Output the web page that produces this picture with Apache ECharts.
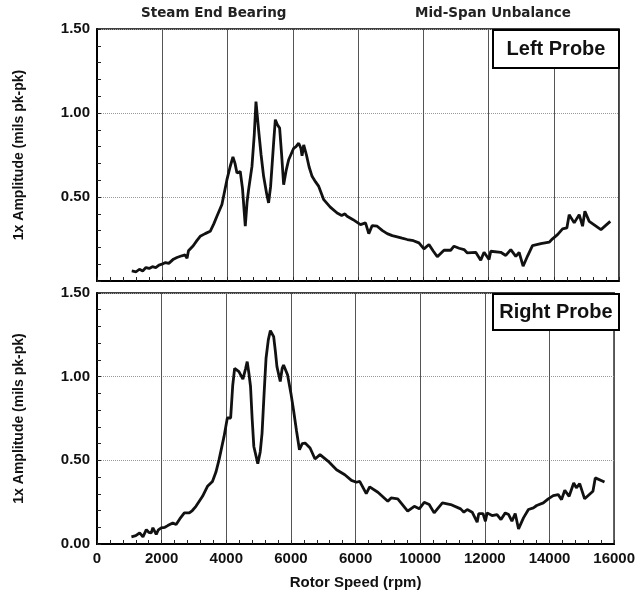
<!DOCTYPE html>
<html>
<head>
<meta charset="utf-8">
<script src="https://cdn.jsdelivr.net/npm/echarts@6/dist/echarts.min.js"></script>
<style>html,body{margin:0;padding:0;background:#fff}#c{width:638px;height:599px}</style>
</head>
<body>
<div id="c"></div>
<script>
const xTickLabels = ['0','2000','4000','6000','6000','10000','12000','14000','16000'];

const leftSpeed = [1065,1200,1300,1400,1500,1600,1700,1800,1900,1990,2100,2200,2343,2450,2600,2700,2760,2804,2950,3060,3163,3316,3470,3580,3676,3829,3983,4080,4167,4230,4290,4391,4460,4545,4600,4647,4750,4820,4873,4953,5030,5107,5200,5260,5320,5364,5420,5466,5530,5598,5660,5721,5800,5875,6028,6100,6182,6250,6285,6336,6420,6500,6592,6700,6797,6950,7150,7360,7500,7600,7667,7850,8076,8128,8230,8331,8435,8588,8750,8895,9050,9202,9350,9509,9700,9868,10022,10175,10300,10431,10636,10841,10943,11100,11250,11352,11608,11762,11864,12017,12069,12376,12530,12683,12837,12939,13061,13200,13348,13604,13860,13962,14116,14270,14402,14473,14627,14780,14883,14954,15087,15447,15733];
const leftAmp = [0.06,0.055,0.07,0.06,0.08,0.075,0.085,0.08,0.095,0.10,0.11,0.105,0.13,0.14,0.15,0.155,0.135,0.18,0.21,0.24,0.266,0.282,0.296,0.34,0.385,0.455,0.603,0.68,0.738,0.70,0.643,0.652,0.55,0.326,0.47,0.544,0.682,0.87,1.068,0.90,0.75,0.623,0.52,0.465,0.56,0.682,0.84,0.96,0.93,0.91,0.75,0.573,0.66,0.722,0.79,0.80,0.82,0.79,0.746,0.81,0.75,0.68,0.623,0.59,0.563,0.484,0.44,0.405,0.39,0.40,0.385,0.365,0.336,0.346,0.346,0.282,0.33,0.326,0.30,0.282,0.27,0.263,0.255,0.247,0.24,0.227,0.191,0.217,0.18,0.144,0.183,0.183,0.207,0.195,0.187,0.167,0.171,0.124,0.171,0.128,0.177,0.171,0.152,0.187,0.147,0.171,0.088,0.15,0.211,0.223,0.231,0.251,0.276,0.31,0.316,0.395,0.346,0.395,0.326,0.415,0.355,0.306,0.355];

const rightSpeed = [1065,1200,1320,1422,1526,1600,1680,1729,1833,1900,1987,2100,2190,2343,2448,2560,2702,2856,2950,3061,3265,3418,3572,3680,3777,3931,4032,4135,4200,4258,4391,4514,4600,4647,4700,4750,4800,4852,4975,5050,5107,5170,5230,5300,5364,5466,5520,5567,5670,5730,5772,5895,6000,6079,6170,6263,6350,6438,6592,6746,6900,7155,7411,7667,7872,8025,8128,8331,8435,8690,8997,9100,9305,9612,9817,9970,10124,10278,10431,10687,10943,11250,11352,11455,11608,11762,11812,11944,12017,12069,12222,12376,12499,12632,12735,12837,12939,13042,13195,13348,13502,13604,13809,13962,14116,14270,14372,14473,14607,14749,14831,14934,15087,15344,15416,15702];
const rightAmp = [0.043,0.05,0.067,0.043,0.086,0.07,0.067,0.097,0.057,0.085,0.097,0.10,0.11,0.126,0.116,0.15,0.186,0.186,0.20,0.225,0.285,0.345,0.374,0.43,0.504,0.643,0.753,0.753,0.95,1.05,1.03,0.985,1.05,1.09,1.02,0.941,0.75,0.583,0.48,0.55,0.663,0.90,1.11,1.22,1.275,1.239,1.15,1.06,0.971,1.05,1.07,1.011,0.90,0.802,0.68,0.563,0.60,0.603,0.574,0.508,0.534,0.494,0.444,0.414,0.38,0.369,0.374,0.301,0.341,0.309,0.255,0.275,0.269,0.196,0.225,0.21,0.249,0.236,0.186,0.246,0.236,0.21,0.19,0.206,0.19,0.13,0.182,0.182,0.136,0.186,0.17,0.176,0.146,0.186,0.176,0.136,0.182,0.09,0.156,0.206,0.216,0.23,0.246,0.27,0.289,0.295,0.265,0.321,0.285,0.365,0.335,0.361,0.27,0.315,0.395,0.371];

const pairs = (xs, ys) => xs.map((x, i) => [x, ys[i]]);
const FONT = 'Liberation Sans';

function xAxis(gridIndex, showLabels) {
  return {
    type: 'value', gridIndex, min: 0, max: 16000, interval: 2000,
    name: showLabels ? 'Rotor Speed (rpm)' : '',
    nameLocation: 'middle', nameGap: 31,
    nameTextStyle: { fontFamily: FONT, fontWeight: 'bold', fontSize: 15, color: '#111' },
    axisLine: { show: true, lineStyle: { color: '#000', width: 2 } },
    axisTick: { show: true, inside: true, length: 4, lineStyle: { color: '#222' } },
    minorTick: { show: true, splitNumber: 5, length: 4, lineStyle: { color: '#222' } },
    axisLabel: { show: showLabels, margin: 7, fontFamily: FONT, fontWeight: 'bold', fontSize: 15, color: '#111',
      formatter: v => xTickLabels[Math.round(v / 2000)] },
    splitLine: { show: true, lineStyle: { color: '#555', width: 1 } }
  };
}
function yAxis(gridIndex, showMin) {
  return {
    type: 'value', gridIndex, min: 0, max: 1.5, interval: 0.5,
    name: '1x Amplitude (mils pk-pk)', nameLocation: 'middle', nameGap: 71,
    nameTextStyle: { fontFamily: FONT, fontWeight: 'bold', fontSize: 14, color: '#111' },
    axisLine: { show: true, lineStyle: { color: '#000', width: 2 } },
    axisTick: { show: true, inside: true, length: 4, lineStyle: { color: '#222' } },
    minorTick: { show: true, splitNumber: 5, length: 4, lineStyle: { color: '#222' } },
    axisLabel: { showMinLabel: showMin, margin: 7, fontFamily: FONT, fontWeight: 'bold', fontSize: 15, color: '#111',
      formatter: v => v.toFixed(2) },
    splitLine: { show: true, lineStyle: { color: '#999', width: 1, type: 'dotted' } }
  };
}

const chart = echarts.init(document.getElementById('c'));
chart.setOption({
  animation: false,
  backgroundColor: '#fff',
  grid: [
    { left: 97, right: 19, top: 29, height: 252, show: true, borderColor: '#000', borderWidth: 1.5 },
    { left: 97, right: 19, top: 293, height: 251, show: true, borderColor: '#000', borderWidth: 1.5 }
  ],
  xAxis: [xAxis(0, false), xAxis(1, true)],
  yAxis: [yAxis(0, false), yAxis(1, true)],
  series: [
    { type: 'line', xAxisIndex: 0, yAxisIndex: 0, data: pairs(leftSpeed, leftAmp), showSymbol: false,
      lineStyle: { color: '#111', width: 2.8 }, z: 5 },
    { type: 'line', xAxisIndex: 1, yAxisIndex: 1, data: pairs(rightSpeed, rightAmp), showSymbol: false,
      lineStyle: { color: '#111', width: 2.8 }, z: 5 }
  ],
  graphic: [
    { type: 'text', z: 100, left: 217 - 76, top: 6, style: { text: 'Steam End Bearing', fontFamily: 'DejaVu Sans', fontWeight: 'bold', fontSize: 13.5, fill: '#222' } },
    { type: 'text', z: 100, left: 496 - 81, top: 6, style: { text: 'Mid-Span Unbalance', fontFamily: 'DejaVu Sans', fontWeight: 'bold', fontSize: 13.5, fill: '#222' } },
    { type: 'rect', z: 100, shape: { x: 493, y: 30, width: 126, height: 38 }, style: { fill: '#fff', stroke: '#000', lineWidth: 2 } },
    { type: 'text', z: 101, x: 556, y: 49, style: { text: 'Left Probe', fontFamily: FONT, fontWeight: 'bold', fontSize: 20, fill: '#111', align: 'center', verticalAlign: 'middle' } },
    { type: 'rect', z: 100, shape: { x: 493, y: 294, width: 126, height: 36 }, style: { fill: '#fff', stroke: '#000', lineWidth: 2 } },
    { type: 'text', z: 101, x: 556, y: 312, style: { text: 'Right Probe', fontFamily: FONT, fontWeight: 'bold', fontSize: 20, fill: '#111', align: 'center', verticalAlign: 'middle' } }
  ]
});
</script>
</body>
</html>
